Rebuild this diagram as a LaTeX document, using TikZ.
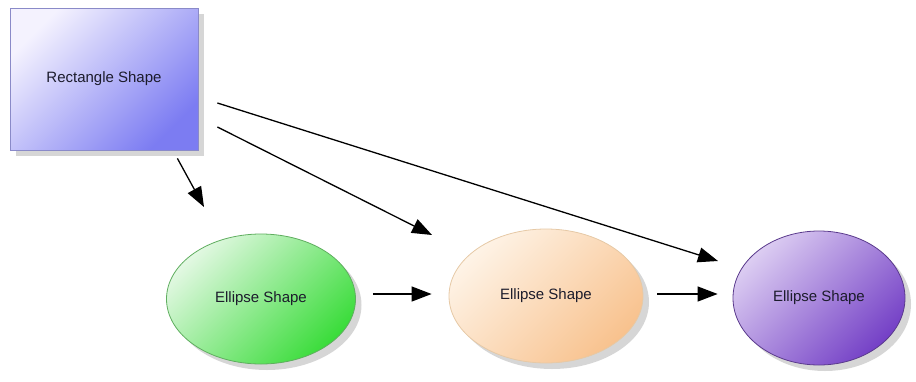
\documentclass[tikz,border=0pt]{standalone}
\usepackage{fontspec}
\setmainfont{Liberation Sans}
\usetikzlibrary{arrows.meta,calc,shapes.geometric,shadows}
\definecolor{rectlight}{HTML}{F4F2FE}
\definecolor{rectdark}{HTML}{7C7CF2}
\definecolor{rectedge}{HTML}{8A8AC8}
\definecolor{greenlight}{HTML}{E2F8E2}
\definecolor{greendark}{HTML}{3ADC3A}
\definecolor{greenedge}{HTML}{5FAE5F}
\definecolor{orangelight}{HTML}{FEF3E6}
\definecolor{orangedark}{HTML}{F8C28E}
\definecolor{orangeedge}{HTML}{E6C9A6}
\definecolor{purplelight}{HTML}{DCCDF2}
\definecolor{purpledark}{HTML}{7440C6}
\definecolor{purpleedge}{HTML}{5A3A8C}
\definecolor{labeltext}{HTML}{1C1C2C}
\tikzset{
  shapebase/.style={font=\fontsize{15}{17}\selectfont, text=labeltext, line width=0.8pt,
    drop shadow={shadow xshift=6pt, shadow yshift=-6pt, fill=black!40, opacity=0.4}},
  % diagonal gradient: light at the upper left, saturated at the lower right
  diag/.style 2 args={top color=#1, bottom color=#2, shading angle=45},
  rectbox/.style={shapebase, rectangle, draw=rectedge, diag={rectlight}{rectdark},
    minimum width=188pt, minimum height=142pt},
  ovalbox/.style={shapebase, ellipse, inner sep=0pt},
  arr/.style={-{Triangle[length=20pt,width=15pt]}, line width=1.3pt, black}
}
\begin{document}
\begin{tikzpicture}[x=1pt,y=-1pt]
  \useasboundingbox (0,0) rectangle (916,381);
  \node[rectbox] (r) at (104,79) {Rectangle Shape};
  \node[ovalbox, draw=greenedge, diag={greenlight}{greendark},
        minimum width=189pt, minimum height=130pt] (e1) at (261,299) {Ellipse Shape};
  \node[ovalbox, draw=orangeedge, diag={orangelight}{orangedark},
        minimum width=194pt, minimum height=134pt] (e2) at (546,296) {Ellipse Shape};
  \node[ovalbox, draw=purpleedge, diag={purplelight}{purpledark},
        minimum width=172pt, minimum height=134pt] (e3) at (819,298) {Ellipse Shape};
  % connectors
  \draw[arr] ($(r.south east)+(-21,8)$) -- ($(e1.center)+(-57,-92)$);
  \draw[arr] ($(r.east)+(19,48)$) -- ($(e2.center)+(-114,-61)$);
  \draw[arr] ($(r.east)+(19,24)$) -- ($(e3.center)+(-101,-37)$);
  \draw[arr] ($(e1.east)+(17,-5)$) -- ($(e2.west)+(-17,-2)$);
  \draw[arr] ($(e2.east)+(14,-2)$) -- ($(e3.west)+(-15,-4)$);
\end{tikzpicture}
\end{document}
